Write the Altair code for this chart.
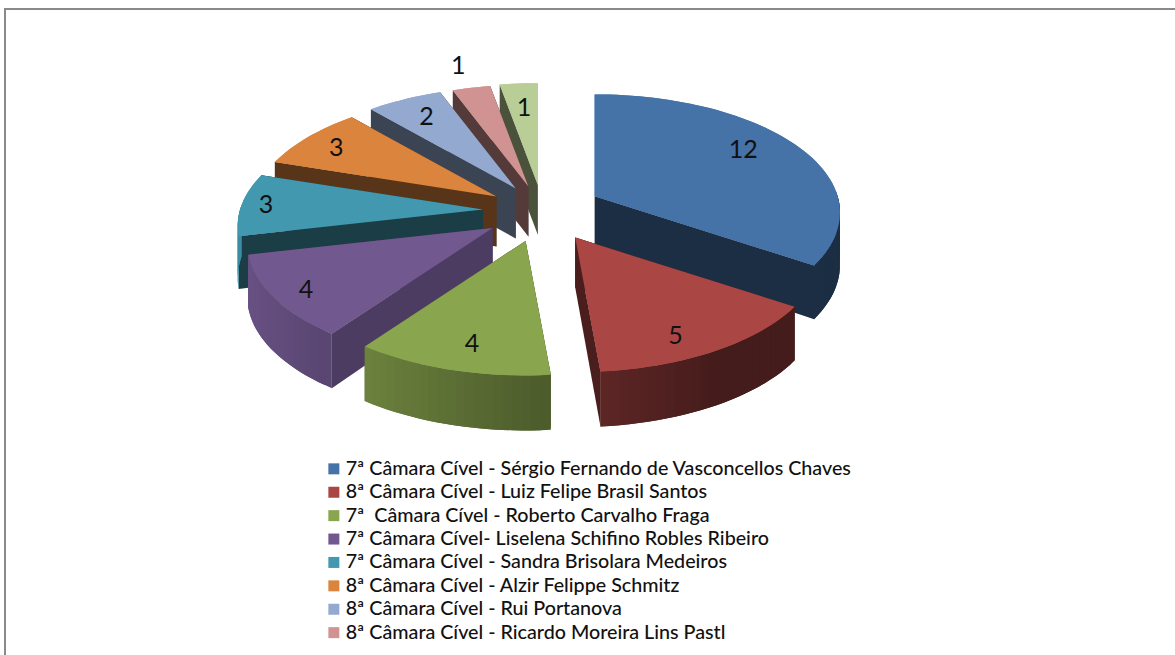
import math
import altair as alt

# Processes per chamber and judge, in clockwise order from twelve o'clock.
names = [
    "7ª Câmara Cível - Sérgio Fernando de Vasconcellos Chaves",
    "8ª Câmara Cível - Luiz Felipe Brasil Santos",
    "7ª\u00a0 Câmara Cível - Roberto Carvalho Fraga",
    "7ª Câmara Cível- Liselena Schifino Robles Ribeiro",
    "7ª Câmara Cível - Sandra Brisolara Medeiros",
    "8ª Câmara Cível - Alzir Felippe Schmitz",
    "8ª Câmara Cível - Rui Portanova",
    "8ª Câmara Cível - Ricardo Moreira Lins Pastl",
    "Outra Câmara",
]
values = [12, 5, 4, 4, 3, 3, 2, 1, 1]
colors = ["#4572a7", "#aa4643", "#89a54e", "#71588f", "#4198af",
          "#db843d", "#93a9cf", "#d19392", "#b9cd96"]
legend_count = 8

# Pseudo-3D pie geometry, in units of the pie radius.
RADIUS_PX = 243
CENTER = [541, 211]
TILT = 116 / 243
PERSPECTIVE = 0.138
EXPLODE_X = 58 / 243
EXPLODE_Y = 31 / 243
STEP_DEG = 2
# Painter's order: slices further back are drawn first.
draw_order = [8, 7, 6, 5, 4, 3, 2, 0, 1]
explode_scale_x = [1.05, 1.15, 1.0, 1.0, 1.0, 0.92, 0.85, 0.82, 0.60]
explode_scale_y = [1.0, 1.00, 1.0, 1.0, 1.0, 0.85, 0.85, 0.82, 0.84]
cut_shade = [0.40, 0.43, 0.50, 0.68, 0.40, 0.40, 0.40, 0.40, 0.40]
label_reach_x = [0.74, 0.71, 0.72, 0.85, 0.90, 0.85, 0.80, 1.23, 0.72]
label_reach_y = [0.90, 0.87, 0.80, 0.90, 0.90, 0.81, 0.80, 1.22, 0.76]


def shade(hex_color, factor):
    channels = [int(hex_color[i:i + 2], 16) for i in (1, 3, 5)]
    return "#" + "".join(f"{round(c * factor):02x}" for c in channels)


def rim(theta_deg):
    theta = math.radians(theta_deg)
    u, v = math.sin(theta), -math.cos(theta)
    w = 1 / (1 - PERSPECTIVE * v)
    return u * w, TILT * v * w, u, v


def drop(v):
    return (52 + 3 * v) / RADIUS_PX


def polygon(points, fill):
    ring = [list(p) for p in points] + [list(points[0])]
    return {"type": "Feature", "fill": fill,
            "geometry": {"type": "Polygon", "coordinates": [ring]}}


total = sum(values)
edges = [0]
for value in values:
    edges.append(edges[-1] + value / total * 360)


def slice_parts(i):
    start, end = edges[i], edges[i + 1]
    mid = math.radians((start + end) / 2)
    ax = EXPLODE_X * explode_scale_x[i] * math.sin(mid)
    ay = EXPLODE_Y * explode_scale_y[i] * -math.cos(mid)
    count = max(2, math.ceil((end - start) / STEP_DEG))
    angles = [start + (end - start) * k / count for k in range(count + 1)]
    return ax, ay, angles


walls_and_tops = []
tops = []
labels = []
for i in draw_order:
    ax, ay, angles = slice_parts(i)
    base_drop = 50 / RADIUS_PX
    # Flat cut faces on both radial edges.
    for edge in (angles[0], angles[-1]):
        x, y, _, v = rim(edge)
        walls_and_tops.append(polygon(
            [(ax, ay), (ax + x, ay + y), (ax + x, ay + y + drop(v)), (ax, ay + base_drop)],
            shade(colors[i], cut_shade[i]),
        ))
    # Curved outer wall, front-facing part only, light on the left and dark on the right.
    # Neighbouring strips overlap by one step so that no seams show between them.
    for k in range(len(angles) - 1):
        strip = angles[k:k + 3]
        rims = [rim(a) for a in strip]
        if max(r[3] for r in rims) < 0:
            continue
        mean_u = sum(rim(a)[2] for a in angles[k:k + 2]) / 2
        factor = max(0.40, 0.58 - 0.35 * mean_u)
        upper = [(ax + r[0], ay + r[1]) for r in rims]
        lower = [(ax + r[0], ay + r[1] + drop(r[3])) for r in reversed(rims)]
        walls_and_tops.append(polygon(upper + lower, shade(colors[i], factor)))
    # Top face.
    outline = [(ax, ay)] + [(ax + rim(a)[0], ay + rim(a)[1]) for a in angles]
    walls_and_tops.append(polygon(outline, colors[i]))
    top = polygon(outline, colors[i])
    top["name"] = names[i]
    tops.append(top)
    # Value label along the slice's middle direction.
    mx, my, _, _ = rim((edges[i] + edges[i + 1]) / 2)
    labels.append({"lon": ax + label_reach_x[i] * mx, "lat": ay + label_reach_y[i] * my,
                   "value": values[i]})

projection = dict(type="identity", scale=RADIUS_PX, translate=CENTER)

legend_layer = (
    alt.Chart(alt.Data(values=tops))
    .mark_geoshape(strokeWidth=0)
    .encode(
        color=alt.Color(
            "name:N",
            scale=alt.Scale(domain=names, range=colors),
            legend=alt.Legend(
                values=names[:legend_count],
                orient="none",
                legendX=324,
                legendY=459,
                title=None,
                symbolType="square",
                symbolSize=121,
                symbolStrokeWidth=0,
                labelFont="Lato",
                labelFontSize=19.7,
                labelFontWeight=500,
                labelColor="#111111",
                labelLimit=700,
                labelOffset=2,
                rowPadding=2.4,
            ),
        )
    )
    .project(**projection)
)

faces = (
    alt.Chart(alt.Data(values=walls_and_tops))
    .mark_geoshape(strokeWidth=0)
    .encode(fill=alt.Fill("fill:N", scale=None))
    .project(**projection)
)

value_labels = (
    alt.Chart(alt.Data(values=labels))
    .mark_text(font="Lato", fontSize=25, color="#111111", baseline="middle")
    .encode(longitude="lon:Q", latitude="lat:Q", text="value:Q")
    .project(**projection)
)

frame_left = alt.Chart(alt.Data(values=[{}])).mark_rule(color="#8a8a8a", strokeWidth=2).encode(
    x=alt.value(5), y=alt.value(9), y2=alt.value(655)
)
frame_top = alt.Chart(alt.Data(values=[{}])).mark_rule(color="#8a8a8a", strokeWidth=2).encode(
    x=alt.value(4), x2=alt.value(1175), y=alt.value(9)
)

chart = (
    alt.layer(frame_left, frame_top, legend_layer, faces, value_labels)
    .properties(width=1175, height=655, padding=0, background="white",
                autosize=alt.AutoSizeParams(type="none"))
    .configure_view(stroke=None)
)

chart.save("out.html", embed_options={"renderer": "svg", "actions": False})
